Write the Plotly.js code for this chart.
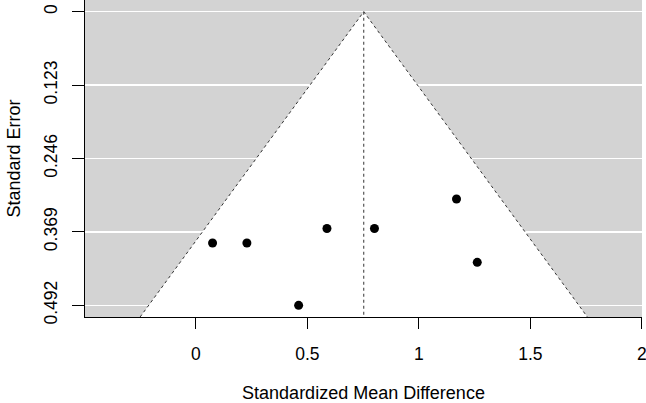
<!DOCTYPE html>
<html>
<head>
<meta charset="utf-8">
<script src="https://cdn.plot.ly/plotly-3.0.1.min.js"></script>
<style>html,body{margin:0;padding:0;background:#fff;}#chart{width:646px;height:403px;}</style>
</head>
<body>
<div id="chart"></div>
<script>
// Study-level data
var smd = [0.075, 0.229, 0.588, 0.801, 1.169, 1.262, 0.461];
var stdErr = [0.3876, 0.3876, 0.3634, 0.3634, 0.3138, 0.420, 0.4921];
// Pooled estimate (centre of funnel)
var pooledEstimate = 0.753;
// Axis ticks
var yTickVals = [0, 0.123, 0.246, 0.369, 0.492];
var yTickText = ['0', '0.123', '0.246', '0.369', '0.492'];
var xTickVals = [0, 0.5, 1, 1.5, 2];
var xTickText = ['0', '0.5', '1', '1.5', '2'];

var seMax = 0.492;
var yBottom = seMax * 1.04;
var yTop = -seMax * 0.04;
var z = 1.96;

var funnelX = [pooledEstimate - z * yBottom, pooledEstimate, pooledEstimate + z * yBottom];
var funnelY = [yBottom, 0, yBottom];

var traces = [
  {
    x: funnelX, y: funnelY, type: 'scatter', mode: 'lines',
    fill: 'toself', fillcolor: '#ffffff',
    line: {color: '#333333', width: 1, dash: 'dot'},
    hoverinfo: 'skip', showlegend: false
  },
  {
    x: [pooledEstimate, pooledEstimate], y: [0, yBottom], type: 'scatter', mode: 'lines',
    line: {color: '#333333', width: 1, dash: 'dot'},
    hoverinfo: 'skip', showlegend: false
  },
  {
    x: smd, y: stdErr, type: 'scatter', mode: 'markers',
    marker: {color: '#000000', size: 9},
    showlegend: false
  }
];

var layout = {
  width: 646, height: 403,
  margin: {l: 85, r: 4.3, t: 0, b: 85.7},
  paper_bgcolor: '#ffffff',
  plot_bgcolor: '#d3d3d3',
  font: {family: 'Liberation Sans, Arial, sans-serif', size: 17.5, color: '#000'},
  showlegend: false,
  xaxis: {
    range: [-0.497, 2.0008],
    tickvals: xTickVals, ticktext: xTickText,
    showgrid: false, zeroline: false,
    showline: true, linecolor: '#000', linewidth: 1,
    ticks: 'outside', ticklen: 11, tickcolor: '#000', tickwidth: 1,
    ticklabelstandoff: 10,
    ticklabeloverflow: 'allow',
    automargin: false,
    tickfont: {size: 17.5},
    title: {text: 'Standardized Mean Difference', font: {size: 18}, standoff: 26}
  },
  yaxis: {
    range: [yBottom, yTop],
    tickvals: yTickVals, ticktext: yTickText,
    tickangle: -90,
    showgrid: true, gridcolor: '#ffffff', gridwidth: 1.5,
    zeroline: false,
    showline: true, linecolor: '#000', linewidth: 1,
    ticks: 'outside', ticklen: 12, tickcolor: '#000', tickwidth: 1,
    ticklabelstandoff: 8,
    ticklabeloverflow: 'allow',
    automargin: false,
    tickfont: {size: 17.5},
    title: {text: 'Standard Error', font: {size: 18}, standoff: 15}
  }
};

Plotly.newPlot('chart', traces, layout, {displayModeBar: false, staticPlot: true});
</script>
</body>
</html>
